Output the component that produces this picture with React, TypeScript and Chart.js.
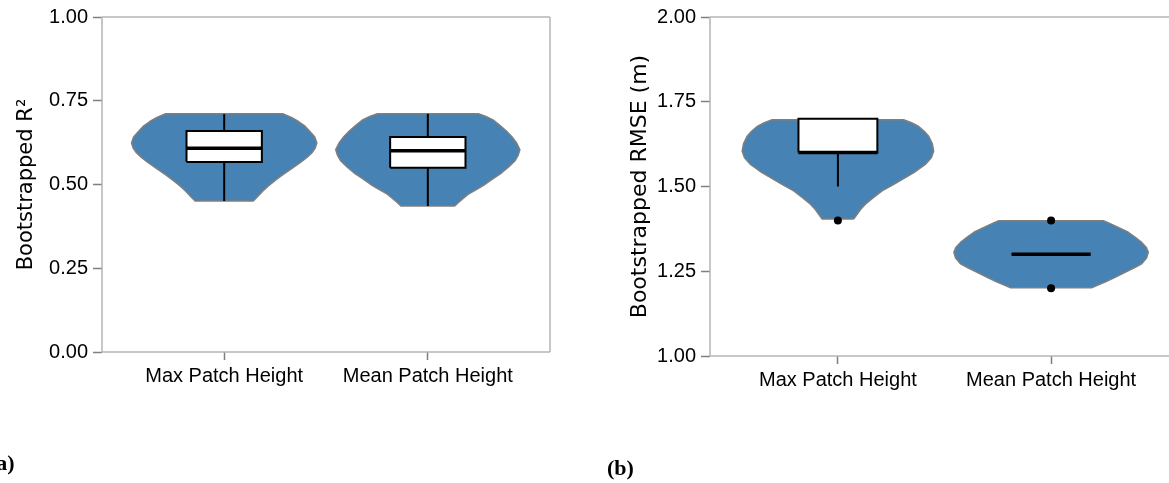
import React, { useEffect, useRef } from 'react';
import { Chart, registerables } from 'chart.js';

Chart.register(...registerables);

// ---------- data ----------
const categories = ['Max Patch Height', 'Mean Patch Height'];

// Panel (a): bootstrapped R²
const r2Ticks = [0, 0.25, 0.5, 0.75, 1];
const r2MaxDensityY = [0.451, 0.466, 0.481, 0.496, 0.513, 0.53, 0.548, 0.565, 0.58, 0.594, 0.609, 0.624, 0.642, 0.659, 0.675, 0.688, 0.7, 0.711];
const r2MaxDensityW = [0.143, 0.167, 0.19, 0.217, 0.252, 0.29, 0.333, 0.373, 0.405, 0.43, 0.447, 0.455, 0.445, 0.42, 0.395, 0.365, 0.33, 0.29];
const r2MeanDensityY = [0.436, 0.446, 0.458, 0.471, 0.485, 0.5, 0.518, 0.535, 0.553, 0.57, 0.588, 0.604, 0.624, 0.642, 0.659, 0.676, 0.693, 0.703, 0.711];
const r2MeanDensityW = [0.132, 0.149, 0.172, 0.199, 0.238, 0.28, 0.322, 0.363, 0.398, 0.427, 0.444, 0.452, 0.436, 0.414, 0.387, 0.355, 0.32, 0.285, 0.248];
const r2Min = [0.451, 0.436];
const r2Q1 = [0.567, 0.55];
const r2Median = [0.608, 0.601];
const r2Q3 = [0.66, 0.642];
const r2Max = [0.71, 0.711];
const r2Outliers: number[][] = [[], []];

// Panel (b): bootstrapped RMSE (m)
const rmseTicks = [1, 1.25, 1.5, 1.75, 2];
const rmseMaxDensityY = [1.404, 1.418, 1.433, 1.448, 1.467, 1.487, 1.506, 1.526, 1.545, 1.565, 1.585, 1.604, 1.626, 1.648, 1.663, 1.677, 1.688, 1.697];
const rmseMaxDensityW = [0.074, 0.09, 0.107, 0.129, 0.166, 0.207, 0.262, 0.316, 0.366, 0.41, 0.438, 0.449, 0.443, 0.426, 0.405, 0.379, 0.345, 0.308];
const rmseMeanDensityY = [1.201, 1.21, 1.218, 1.232, 1.247, 1.26, 1.272, 1.289, 1.306, 1.32, 1.335, 1.35, 1.365, 1.375, 1.384, 1.392, 1.399];
const rmseMeanDensityW = [0.19, 0.222, 0.253, 0.3, 0.347, 0.39, 0.425, 0.448, 0.456, 0.447, 0.425, 0.395, 0.362, 0.33, 0.3, 0.272, 0.245];
const rmseMin = [1.5, 1.3];
const rmseQ1 = [1.6, 1.3];
const rmseMedian = [1.6, 1.3];
const rmseQ3 = [1.7, 1.3];
const rmseMax = [1.7, 1.3];
const rmseOutliers: number[][] = [[1.4], [1.4, 1.2]];

// ---------- styles ----------
const VIOLIN_FILL = '#4682B4';
const VIOLIN_EDGE = '#7f7f7f';
const FRAME = '#b5b5b5';
const TICK_MARK = '#7f7f7f';
const TEXT = '#000000';
const BOX_HALF = 0.185;

type Panel = {
  ticks: number[];
  min: number;
  max: number;
  densities: { y: number[]; w: number[] }[];
  lo: number[];
  q1: number[];
  med: number[];
  q3: number[];
  hi: number[];
  outliers: number[][];
  title: string;
  titleSize: number;
  titlePad: number;
  yAxisWidth: number;
  xAxisHeight: number;
  padRight: number;
  rightBorder: boolean;
  width: number;
  left: number;
};

function buildDatasets(p: Panel) {
  const ds: any[] = [];
  p.densities.forEach((d, i) => {
    const c = i + 1;
    const right = d.y.map((y, k) => ({ x: c + d.w[k], y }));
    const left = d.y.map((y, k) => ({ x: c - d.w[k], y })).reverse();
    ds.push({
      data: [...right, ...left, right[0]],
      showLine: true,
      fill: 'shape',
      backgroundColor: VIOLIN_FILL,
      borderColor: VIOLIN_EDGE,
      borderWidth: 1.5,
      borderJoinStyle: 'round',
      pointRadius: 0,
      order: 6,
    });
    // box
    ds.push({
      data: [
        { x: c - BOX_HALF, y: p.q1[i] },
        { x: c + BOX_HALF, y: p.q1[i] },
        { x: c + BOX_HALF, y: p.q3[i] },
        { x: c - BOX_HALF, y: p.q3[i] },
        { x: c - BOX_HALF, y: p.q1[i] },
      ],
      showLine: true,
      fill: 'shape',
      backgroundColor: '#ffffff',
      borderColor: '#000000',
      borderWidth: 2,
      pointRadius: 0,
      order: 4,
    });
    // whiskers
    ds.push({
      data: [
        { x: c, y: p.q3[i] },
        { x: c, y: p.hi[i] },
      ],
      showLine: true,
      borderColor: '#000000',
      borderWidth: 2,
      pointRadius: 0,
      order: 5,
    });
    ds.push({
      data: [
        { x: c, y: p.q1[i] },
        { x: c, y: p.lo[i] },
      ],
      showLine: true,
      borderColor: '#000000',
      borderWidth: 2,
      pointRadius: 0,
      order: 5,
    });
    // median
    ds.push({
      data: [
        { x: c - BOX_HALF, y: p.med[i] },
        { x: c + BOX_HALF, y: p.med[i] },
      ],
      showLine: true,
      borderColor: '#000000',
      borderWidth: 3.5,
      pointRadius: 0,
      order: 2,
    });
    // outliers
    ds.push({
      data: p.outliers[i].map((y) => ({ x: c, y })),
      showLine: false,
      pointRadius: 4,
      pointBackgroundColor: '#000000',
      pointBorderWidth: 0,
      order: 1,
    });
  });
  return ds;
}

function framePlugin(rightBorder: boolean) {
  return {
    id: 'frame',
    beforeDatasetsDraw(chart: any) {
      const { ctx, chartArea: a } = chart;
      ctx.save();
      ctx.strokeStyle = FRAME;
      ctx.lineWidth = 1.5;
      ctx.beginPath();
      ctx.moveTo(a.left, a.top);
      ctx.lineTo(a.right, a.top);
      if (rightBorder) {
        ctx.moveTo(a.right, a.top);
        ctx.lineTo(a.right, a.bottom);
      }
      ctx.moveTo(a.left, a.top);
      ctx.lineTo(a.left, a.bottom);
      ctx.lineTo(a.right, a.bottom);
      ctx.stroke();
      ctx.restore();
    },
  };
}

const tickFont = { family: "'Liberation Sans', Arial, sans-serif", size: 20 };

function PanelChart({ p }: { p: Panel }) {
  const ref = useRef<HTMLCanvasElement | null>(null);
  useEffect(() => {
    if (!ref.current) return;
    const chart = new Chart(ref.current, {
      type: 'scatter',
      data: { datasets: buildDatasets(p) },
      options: {
        responsive: false,
        animation: false,
        layout: { padding: { left: 0, top: 15, right: p.padRight, bottom: 0 } },
        plugins: { legend: { display: false }, tooltip: { enabled: false } },
        scales: {
          x: {
            type: 'linear',
            min: 0.4,
            max: 2.6,
            afterBuildTicks: (s: any) => {
              s.ticks = categories.map((_, i) => ({ value: i + 1 }));
            },
            afterFit: (s: any) => {
              s.height = p.xAxisHeight;
            },
            ticks: {
              callback: (v: any) => categories[Math.round(Number(v)) - 1] ?? '',
              font: tickFont,
              color: TEXT,
              padding: 4,
              maxRotation: 0,
              autoSkip: false,
            },
            grid: {
              display: true,
              drawOnChartArea: false,
              drawTicks: true,
              tickLength: 8,
              tickColor: TICK_MARK,
              tickWidth: 1.5,
            },
            border: { display: false },
          },
          y: {
            type: 'linear',
            min: p.min,
            max: p.max,
            afterBuildTicks: (s: any) => {
              s.ticks = p.ticks.map((v) => ({ value: v }));
            },
            afterFit: (s: any) => {
              s.width = p.yAxisWidth;
            },
            ticks: {
              callback: (v: any) => Number(v).toFixed(2),
              font: tickFont,
              color: TEXT,
              padding: 5,
            },
            grid: {
              display: true,
              drawOnChartArea: false,
              drawTicks: true,
              tickLength: 9,
              tickColor: TICK_MARK,
              tickWidth: 1.5,
            },
            border: { display: false },
            title: {
              display: true,
              text: p.title,
              font: { family: "'DejaVu Sans', sans-serif", size: p.titleSize },
              color: TEXT,
              padding: { top: p.titlePad, bottom: 0 },
            },
          },
        },
      },
      plugins: [framePlugin(p.rightBorder)],
    } as any);
    return () => chart.destroy();
  }, [p]);
  return (
    <canvas
      ref={ref}
      width={p.width}
      height={483}
      style={{ position: 'absolute', left: p.left, top: 0, width: p.width, height: 483 }}
    />
  );
}

const panelA: Panel = {
  ticks: r2Ticks,
  min: 0,
  max: 1,
  densities: [
    { y: r2MaxDensityY, w: r2MaxDensityW },
    { y: r2MeanDensityY, w: r2MeanDensityW },
  ],
  lo: r2Min,
  q1: r2Q1,
  med: r2Median,
  q3: r2Q3,
  hi: r2Max,
  outliers: r2Outliers,
  title: 'Bootstrapped R²',
  titleSize: 21,
  titlePad: 14,
  yAxisWidth: 102,
  xAxisHeight: 131,
  padRight: 30,
  rightBorder: true,
  width: 580,
  left: 0,
};

const panelB: Panel = {
  ticks: rmseTicks,
  min: 1,
  max: 2,
  densities: [
    { y: rmseMaxDensityY, w: rmseMaxDensityW },
    { y: rmseMeanDensityY, w: rmseMeanDensityW },
  ],
  lo: rmseMin,
  q1: rmseQ1,
  med: rmseMedian,
  q3: rmseQ3,
  hi: rmseMax,
  outliers: rmseOutliers,
  title: 'Bootstrapped RMSE (m)',
  titleSize: 22,
  titlePad: 47,
  yAxisWidth: 130,
  xAxisHeight: 127,
  padRight: 21,
  rightBorder: false,
  width: 620,
  left: 580,
};

const labelStyle: React.CSSProperties = {
  position: 'absolute',
  fontFamily: "'Liberation Serif', 'Times New Roman', serif",
  fontWeight: 'bold',
  fontSize: 22,
  lineHeight: '22px',
  color: '#000',
  whiteSpace: 'nowrap',
};

export default function App() {
  return (
    <div
      style={{
        position: 'fixed',
        left: 0,
        top: 0,
        width: 1169,
        height: 483,
        overflow: 'hidden',
        background: '#ffffff',
      }}
    >
      <PanelChart p={panelA} />
      <PanelChart p={panelB} />
      <span style={{ ...labelStyle, left: -11, top: 452 }}>(a)</span>
      <span style={{ ...labelStyle, left: 607, top: 457 }}>(b)</span>
    </div>
  );
}
